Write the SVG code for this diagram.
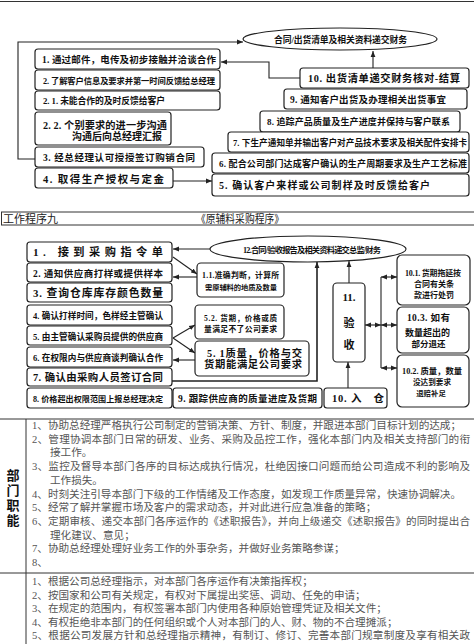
<svg xmlns="http://www.w3.org/2000/svg" width="474" height="644" viewBox="0 0 474 644">
<style>
.bx{fill:#fff;stroke:#222;stroke-width:1.2}
.el{fill:#fff;stroke:#222;stroke-width:1.2}
.t{font-family:"Liberation Serif","Noto Sans CJK SC",serif;font-weight:700;fill:#111}
.c{fill:none;stroke:#222;stroke-width:1.1}
.a{marker-end:url(#ah)}
.d{marker-start:url(#ah);marker-end:url(#ah)}
.b{font-family:"Liberation Serif","Noto Sans CJK SC",serif;font-size:10.6px;fill:#555}
.r{stroke:#333;stroke-width:1;fill:none}
.h{font-family:"Liberation Serif","Noto Sans CJK SC",serif;font-size:11px;fill:#222}
</style>
<defs>
<marker id="ah" viewBox="0 0 10 10" refX="10" refY="5" markerWidth="6" markerHeight="6" markerUnits="userSpaceOnUse" orient="auto-start-reverse"><path d="M0,1 L10,5 L0,9 z" fill="#222"/></marker>
</defs>
<rect width="474" height="644" fill="#fff"/>
<line class="r" x1="0" y1="1.5" x2="474" y2="1.5"/>

<!-- connectors -->
<g id="connectors">
<path class="c a" d="M35,159 H18 V42 H243"/>
<path class="c a" d="M300,78 H269 V62 H221"/>
<path class="c a" d="M373,68 V51"/>
<path class="c a" d="M173,181 H212"/>
<path class="c a" d="M210,249 H173"/>
<path class="c a" d="M173,257 L197,274"/>
<path class="c a" d="M197,277 H173"/>
<path class="c a" d="M173,338 L195,325"/>
<path class="c a" d="M173,338 L195,353"/>
<path class="c a" d="M195,360 H173"/>
<path class="c a" d="M172,381 H317 V262" style="stroke-width:1.6"/>
<path class="c a" d="M349,283 V261"/>
<path class="c a" d="M348,388 V362"/>
<path class="c" d="M381,277 V368"/>
<path class="c d" d="M381,277 H397"/>
<path class="c d" d="M365,325 H381"/>
<path class="c d" d="M381,325 H397"/>
<path class="c d" d="M381,368 H397"/>
</g>

<!-- top section nodes -->
<g id="n-top-ellipse"><ellipse class="el" cx="340" cy="39" rx="97" ry="11"/><text class="t" x="274" y="42.5" font-size="8.8" textLength="133">合同/出货清单及相关资料递交财务</text></g>
<g id="n-t1"><rect class="bx" x="35" y="49" width="185" height="20" rx="3"/><text class="t" x="42" y="63" font-size="9.5" textLength="174">1. 通过邮件，电传及初步接触并洽谈合作</text></g>
<g id="n-t2"><rect class="bx" x="35" y="70" width="185" height="20" rx="3"/><text class="t" x="43" y="83.5" font-size="8.3" textLength="172">2. 了解客户信息及要求并第一时间反馈给总经理</text></g>
<g id="n-t21"><rect class="bx" x="35" y="91" width="185" height="19" rx="3"/><text class="t" x="43" y="104" font-size="8.8" textLength="122">2. 1. 未能合作的及时反馈给客户</text></g>
<g id="n-t22"><rect class="bx" x="35" y="112" width="136" height="33" rx="3"/><text class="t" x="43" y="129" font-size="10.2" textLength="124">2. 2. 个别要求的进一步沟通</text><text class="t" x="72" y="140" font-size="10" textLength="90">沟通后向总经理汇报</text></g>
<g id="n-t3"><rect class="bx" x="35" y="147" width="169" height="20" rx="3"/><text class="t" x="43" y="161" font-size="9.5" textLength="152">3. 经总经理认可授授签订购销合同</text></g>
<g id="n-t4"><rect class="bx" x="35" y="168" width="138" height="20" rx="3"/><text class="t" x="43" y="182.5" font-size="10.5" textLength="121">4. 取得生产授权与定金</text></g>
<g id="n-t10"><rect class="bx" x="300" y="68" width="169" height="20" rx="3"/><text class="t" x="308" y="82" font-size="10.3" textLength="152">10. 出货清单递交财务核对-结算</text></g>
<g id="n-t9"><rect class="bx" x="284" y="89" width="183" height="20" rx="3"/><text class="t" x="290" y="102.5" font-size="9.5" textLength="156">9. 通知客户出货及办理相关出货事宜</text></g>
<g id="n-t8"><rect class="bx" x="260" y="111" width="200" height="21" rx="3"/><text class="t" x="267" y="125" font-size="9" textLength="183">8. 追踪产品质量及生产进度并保持与客户联系</text></g>
<g id="n-t7"><rect class="bx" x="228" y="132" width="241" height="20" rx="3"/><text class="t" x="233" y="145.5" font-size="8.6" textLength="234">7. 下生产通知单并输出客户对产品技术要求及相关配件安排卡</text></g>
<g id="n-t6"><rect class="bx" x="212" y="153" width="257" height="20" rx="3"/><text class="t" x="219" y="166.5" font-size="9" textLength="248">6. 配合公司部门达成客户确认的生产周期要求及生产工艺标准</text></g>
<g id="n-t5"><rect class="bx" x="212" y="174" width="257" height="22" rx="3"/><text class="t" x="219" y="188.5" font-size="10" textLength="211">5. 确认客户来样或公司制样及时反馈给客户</text></g>

<!-- header row -->
<g id="header">
<line class="r" x1="1" y1="212" x2="474" y2="212"/>
<line class="r" x1="1" y1="225" x2="474" y2="225"/>
<line class="r" x1="1.5" y1="212" x2="1.5" y2="225"/>
<text class="h" x="3" y="222.5">工作程序九</text>
<text class="h" x="196" y="222.5" font-size="10" textLength="88" lengthAdjust="spacingAndGlyphs">《原辅料采购程序》</text>
</g>

<!-- second section nodes -->
<g id="n-s-ellipse"><ellipse class="el" cx="308" cy="249" rx="98" ry="13"/><text class="t" x="243" y="252.5" font-size="8.2" textLength="138">12.合同/验收报告及相关资料递交总监/财务</text></g>
<g id="n-s1"><rect class="bx" x="27" y="242" width="145" height="20" rx="3"/><text class="t" x="33" y="256" font-size="11.2" textLength="130">1. 接到采购指令单</text></g>
<g id="n-s2"><rect class="bx" x="27" y="263" width="145" height="19" rx="3"/><text class="t" x="33" y="276.5" font-size="9.5" textLength="130">2. 通知供应商打样或提供样本</text></g>
<g id="n-s3"><rect class="bx" x="27" y="283" width="145" height="19" rx="3"/><text class="t" x="33" y="297" font-size="10.8" textLength="130">3. 查询仓库库存颜色数量</text></g>
<g id="n-s4"><rect class="bx" x="27" y="305" width="145" height="20" rx="3"/><text class="t" x="33" y="319" font-size="8.6" textLength="130">4. 确认打样时间，色样经主管确认</text></g>
<g id="n-s5"><rect class="bx" x="27" y="326" width="145" height="19" rx="3"/><text class="t" x="33" y="339.5" font-size="8.6" textLength="130">5. 由主管确认采购员提供的供应商</text></g>
<g id="n-s6"><rect class="bx" x="27" y="347" width="145" height="20" rx="3"/><text class="t" x="33" y="360.5" font-size="8.6" textLength="130">6. 在权限内与供应商谈判确认合作</text></g>
<g id="n-s7"><rect class="bx" x="27" y="368" width="145" height="18" rx="3"/><text class="t" x="33" y="381" font-size="10.4" textLength="130">7. 确认由采购人员签订合同</text></g>
<g id="n-s8"><rect class="bx" x="27" y="388" width="145" height="20" rx="3"/><text class="t" x="33" y="401.5" font-size="8.1" textLength="130">8. 价格超出权限范围上报总经理决定</text></g>
<g id="n-s9"><rect class="bx" x="173" y="388" width="149" height="20" rx="3"/><text class="t" x="178" y="401.5" font-size="9.5" textLength="139">9. 跟踪供应商的质量进度及货期</text></g>
<g id="n-s10"><rect class="bx" x="324" y="388" width="63" height="20" rx="3"/><text class="t" x="332" y="401.5" font-size="10.5" textLength="52">10. 入　仓</text></g>
<g id="n-s11"><rect class="bx" x="333" y="283" width="32" height="79" rx="4"/><text class="t" x="349" y="301" font-size="11" text-anchor="middle">11.</text><text class="t" x="349" y="327" font-size="11" text-anchor="middle">验</text><text class="t" x="349" y="349" font-size="11" text-anchor="middle">收</text></g>
<g id="n-s11a"><rect class="bx" x="197" y="263" width="87" height="34" rx="4"/><text class="t" x="202" y="278" font-size="7.8" textLength="77">1.1.准确判断，计算所</text><text class="t" x="205" y="290" font-size="7.3" textLength="72">需原辅料的地质及数量</text></g>
<g id="n-s52"><rect class="bx" x="195" y="305" width="89" height="34" rx="4"/><text class="t" x="204" y="321" font-size="7.6" textLength="73">5.2. 货期，价格或质</text><text class="t" x="204" y="331.5" font-size="7.8" textLength="73">量满足不了公司要求</text></g>
<g id="n-s51"><rect class="bx" x="195" y="341" width="114" height="35" rx="4"/><text class="t" x="207" y="357" font-size="10.3" textLength="95">5. 1质量，价格与交</text><text class="t" x="204" y="367.5" font-size="10.3" textLength="98">货期能满足公司要求</text></g>
<g id="n-s101"><rect class="bx" x="397" y="255" width="73" height="50" rx="5"/><text class="t" x="405" y="275.5" font-size="8" textLength="56">10.1. 货期拖延按</text><text class="t" x="434" y="286.5" font-size="8" text-anchor="middle">合同有关条</text><text class="t" x="434" y="297.5" font-size="8" text-anchor="middle">款进行处罚</text></g>
<g id="n-s103"><rect class="bx" x="397" y="307" width="72" height="46" rx="5"/><text class="t" x="407" y="321" font-size="9.5" textLength="43">10.3. 如有</text><text class="t" x="427.5" y="335.5" font-size="9" text-anchor="middle">数量超出的</text><text class="t" x="428.5" y="346.5" font-size="8.5" text-anchor="middle">部分退还</text></g>
<g id="n-s102"><rect class="bx" x="397" y="355" width="72" height="52" rx="5"/><text class="t" x="402" y="373.5" font-size="8.3" textLength="60">10.2. 质量，数量</text><text class="t" x="432" y="384.5" font-size="7.6" text-anchor="middle">没达到要求</text><text class="t" x="431" y="395.5" font-size="7.4" text-anchor="middle">退赔补足</text></g>

<!-- table -->
<g id="table">
<line class="r" x1="0" y1="419" x2="474" y2="419"/>
<line class="r" x1="26" y1="419" x2="26" y2="644"/>
<line class="r" x1="0" y1="573" x2="474" y2="573"/>
<g class="t" font-size="13" text-anchor="middle">
<text x="13" y="480">部</text><text x="13" y="495">门</text><text x="13" y="510">职</text><text x="13" y="525">能</text>
</g>
<text class="b" x="32" y="429">1、协助总经理严格执行公司制定的营销决策、方针、制度，并跟进本部门目标计划的达成；</text>
<text class="b" x="32" y="442.7" textLength="438">2、管理协调本部门日常的研发、业务、采购及品控工作，强化本部门内及相关支持部门的衔</text>
<text class="b" x="50" y="456.4">接工作。</text>
<text class="b" x="32" y="470.1" textLength="438">3、监控及督导本部门各序的目标达成执行情况，杜绝因接口问题而给公司造成不利的影响及</text>
<text class="b" x="50" y="483.8">工作损失。</text>
<text class="b" x="32" y="497.5">4、时刻关注引导本部门下级的工作情绪及工作态度，如发现工作质量异常，快速协调解决。</text>
<text class="b" x="32" y="511.2">5、经常了解并掌握市场及客户的需求动态，并对此进行应急准备的策略；</text>
<text class="b" x="32" y="524.9" textLength="438">6、定期审核、递交本部门各序运作的《述职报告》，并向上级递交《述职报告》的同时提出合</text>
<text class="b" x="50" y="538.6">理化建议、意见；</text>
<text class="b" x="32" y="552.3">7、协助总经理处理好业务工作的外事杂务，并做好业务策略参谋；</text>
<text class="b" x="32" y="566">8、</text>
<text class="b" x="32" y="585">1、根据公司总经理指示，对本部门各序运作有决策指挥权；</text>
<text class="b" x="32" y="598.5">2、按国家和公司有关规定，有权对下属提出奖惩、调动、任免的申请；</text>
<text class="b" x="32" y="612">3、在规定的范围内，有权签署本部门内使用各种原始管理凭证及相关文件；</text>
<text class="b" x="32" y="625.5">4、有权拒绝非本部门的任何组织或个人对本部门的人、财、物的不合理摊派；</text>
<text class="b" x="32" y="639" textLength="438">5、根据公司发展方针和总经理指示精神，有制订、修订、完善本部门规章制度及享有相关政</text>
</g>
</svg>
